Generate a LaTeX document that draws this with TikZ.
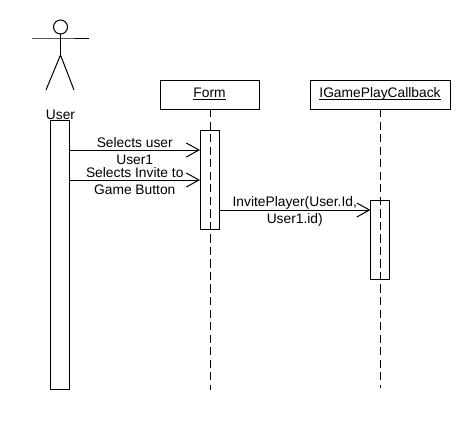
\documentclass[tikz,border=0pt]{standalone}
\usepackage{fontspec}
\setmainfont{Liberation Sans}
\usetikzlibrary{positioning, calc, arrows.meta}
\tikzstyle{Message} = [
%Open headed call arrow:
line width = 0.75pt,
-{Straight Barb[length = 9.5pt, width = 10.5pt, line width = 0.75pt]}
]
\tikzstyle{Lifeline} = [
line width = 0.75pt, dash pattern = on 6.2pt off 3.2pt
]
\newcommand{\headname}[1]{\rule{0pt}{6.2pt}\underline{\smash{#1}}}

\begin{document}
\begin{tikzpicture}[
			x = 0.75pt, y = -0.75pt,
			font = \fontsize{10.35}{13}\selectfont,
			header/.style = {rectangle, draw, line width = 0.75pt, text centered, outer sep = 0pt, minimum height = 21.75pt},
			bar/.style = {rectangle, draw, line width = 0.75pt, outer sep = 0pt, minimum width = 14.25pt},
			limb/.style = {line width = 0.75pt},
			label/.style = {align = center, inner sep = 0pt},
		]
		\path[fill = white](0,0) rectangle (470,430);

		\node[header, minimum width = 74.25pt](Form) at (209.5,94.5){\headname{Form}};
		\node[header, minimum width = 105pt](Callback) at (380,94.5){\headname{IGamePlayCallback}};
		\coordinate(FormEnd) at (210,390);
		\coordinate(CallbackEnd) at (380,388);

		\draw[Lifeline](Form.south -| FormEnd)--(FormEnd);
		\draw[Lifeline](Callback.south)--(CallbackEnd);

		\node[bar, minimum height = 201.75pt](UserBar) at (60,254.5){};
		\node[bar, minimum height = 74.25pt](FormBar) at (209.5,179.5){};
		\node[bar, minimum height = 59.25pt](CallbackBar) at (380,239.5){};

		% stick figure
		\node[circle, draw, limb, minimum size = 10.5pt, inner sep = 0pt, outer sep = 0pt](Head) at (60.5,27){};
		\coordinate(Hip) at (60.5,55);
		\coordinate(Shoulder) at (60.5,38);
		\draw[limb](Head)--(Hip);
		\draw[limb](32,38)--(Shoulder)--(89,38);
		\draw[limb](46,90)--(Hip)--(74,90);
		\node(User) at (60.5,115){User};

		\coordinate(SelectRow) at (0,150);
		\coordinate(InviteRow) at (0,180);
		\coordinate(PlayerRow) at (0,210);

		\draw[Message](UserBar.east |- SelectRow)--node[midway, label, yshift = -1pt] {Selects user\\User1}(FormBar.west |- SelectRow);
		\draw[Message](UserBar.east |- InviteRow)--node[midway, label, yshift = -1pt] {Selects Invite to\\Game Button}(FormBar.west |- InviteRow);
		\draw[Message](FormBar.east |- PlayerRow)--node[midway, label, yshift = -1pt] {InvitePlayer(User.Id,\\User1.id)}(CallbackBar.west |- PlayerRow);

	\end{tikzpicture}
\end{document}
